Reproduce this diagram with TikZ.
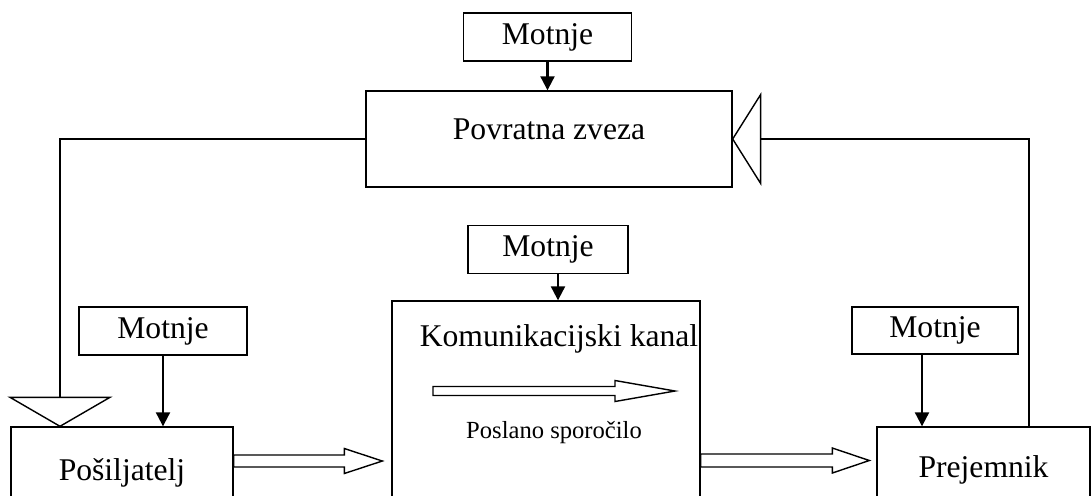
\documentclass[tikz,border=0pt]{standalone}
\usepackage{fontspec}
\setmainfont{Liberation Serif}
\usetikzlibrary{arrows.meta}
\usetikzlibrary{calc}
\tikzset{
    boxn/.style = {draw, line width=0.8pt, inner sep=0pt, align=center},
    motnje/.style = {boxn, minimum width=3.36cm, minimum height=0.96cm},
    boxline/.style = {line width=0.8pt, line join=miter},
    edgen/.style = {-, line width=1.2pt, black},
    edgea/.style = {edgen, -{Triangle[width=8pt,length=8pt]}},
    fatline/.style = {line width=0.8pt, fill=white, line join=miter}
}
% hollow arrow: #1 tail, #2 tip, #3 half shaft, #4 half head, #5 head length
\newcommand{\fatarrow}[5]{%
  \draw[fatline] ($(#1)+(0,#3)$) -- ($(#2)+(-#5,#3)$) -- ($(#2)+(-#5,#4)$) -- (#2)
    -- ($(#2)+(-#5,-#4)$) -- ($(#2)+(-#5,-#3)$) -- ($(#1)+(0,-#3)$) -- cycle;}

\begin{document}
\begin{tikzpicture}[
	x=0.02cm, y=-0.02cm,
	font=\fontsize{18}{21}\selectfont]
  \clip (0,0) rectangle (1091,495);
  \node at (547.5,37) [motnje] (mtop) {Motnje};
  \node at (549,139) [boxn,minimum width=7.32cm,minimum height=1.92cm,text height=0.3cm,text depth=0.3cm] (povr) {Povratna zveza};
  \node at (163,331) [motnje] (mleft) {Motnje};
  \node at (548,249.5) [motnje,minimum width=3.2cm] (mmid) {Motnje};
  \node at (935,330.5) [motnje,minimum width=3.32cm,minimum height=0.94cm] (mright) {Motnje};
  \node at (122,473) [boxn,minimum width=4.44cm,minimum height=1.84cm] (posil) {Pošiljatelj};
  \node at (546,405.5) [boxn,minimum width=6.16cm,minimum height=4.18cm] (kanal) {};
  \node at (983.5,470) [boxn,minimum width=4.26cm,minimum height=1.72cm] (prej) {Prejemnik};
  \node at (559,346) [anchor=base] (kanaltxt) {Komunikacijski kanal};
  \node at (554,438) [anchor=base,font=\fontsize{14}{16}\selectfont] (poslano) {Poslano sporočilo};

  % motnje
  \draw[edgea] (mtop.south) -- (mtop.south |- povr.north);
  \draw[edgea] (mleft.south) -- (mleft.south |- posil.north);
  \coordinate (mm) at ($(mmid.south)+(10,0)$);
  \draw[edgea] (mm) -- (mm |- kanal.north);
  \coordinate (mr) at ($(mright.south)+(-13,0)$);
  \draw[edgea] (mr) -- (mr |- prej.north);

  % povratna zveza
  \coordinate (rline) at (1029,0 |- prej.north);
  \draw[edgen] (rline) |- ($(povr.east)+(28,0)$);
  \draw[boxline] (povr.east) -- ++(28,-44.5) -- ++(0,89) -- cycle;
  \coordinate (ltip) at (60,0 |- posil.north);
  \draw[boxline] (ltip) -- ++(-50,-29) -- ++(100,0) -- cycle;
  \draw[edgen] (povr.west) -| ($(ltip)+(0,-29)$);

  % sporocilo
  \coordinate (pa) at ($(posil.east)+(0,-12)$);
  \coordinate (pb) at ($(kanal.west |- pa)+(-9,0)$);
  \fatarrow{pa}{pb}{6}{12.5}{38}
  \coordinate (qa) at ($(kanal.east |- prej.west)+(0,-9.5)$);
  \coordinate (qb) at ($(prej.west)+(-7,-9.5)$);
  \fatarrow{qa}{qb}{6.5}{12.5}{37}
  \coordinate (ia) at (433,391);
  \coordinate (ib) at (675,391);
  \fatarrow{ia}{ib}{4.5}{10.5}{60}
\end{tikzpicture}
\end{document}
